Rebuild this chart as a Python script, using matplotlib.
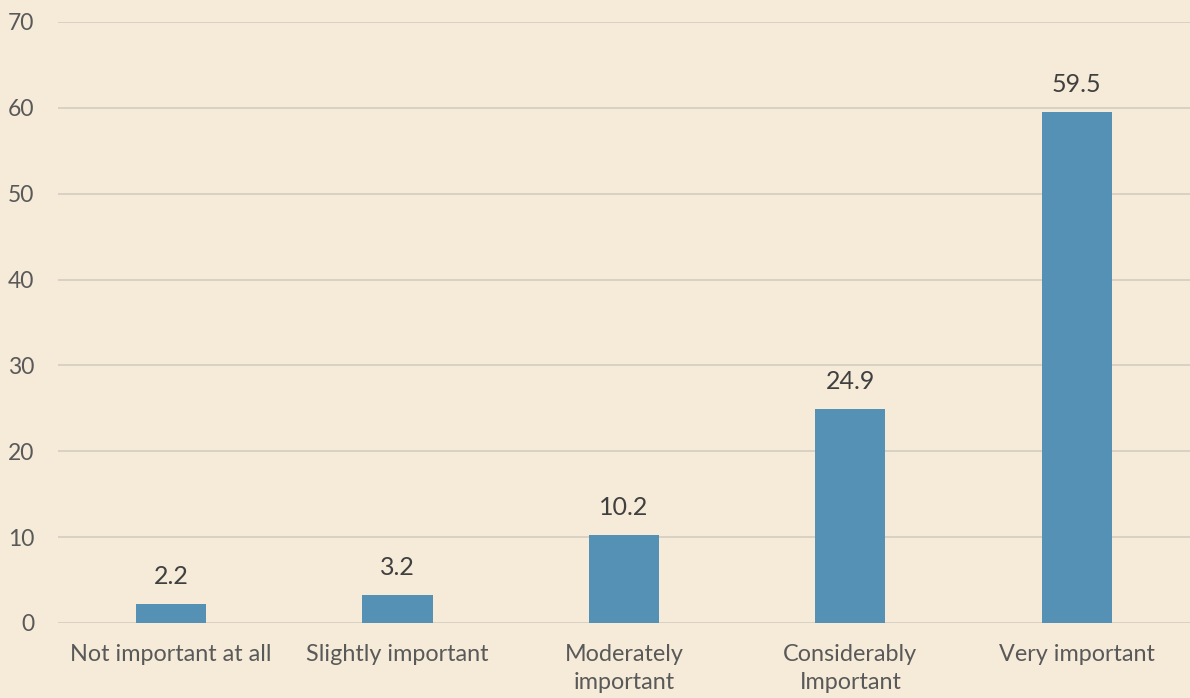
import matplotlib
matplotlib.use("Agg")
import matplotlib.pyplot as plt

categories = ['Not important at all', 'Slightly important', 'Moderately\nimportant',
              'Considerably\nImportant', 'Very important']
values = [2.2, 3.2, 10.2, 24.9, 59.5]
value_labels = ['2.2', '3.2', '10.2', '24.9', '59.5']

BG = '#F5EBD8'
BAR = '#5591B5'
GRID = '#D6CFC2'

plt.rcParams['font.family'] = ['Lato', 'DejaVu Sans']

fig = plt.figure(figsize=(11.9, 6.98), dpi=100, facecolor=BG)
ax = fig.add_axes([0.0487, 0.1075, 0.9513, 0.861])
ax.set_facecolor(BG)

x = list(range(len(categories)))
bars = ax.bar(x, values, width=0.31, color=BAR, zorder=3)
for b, lab in zip(bars, value_labels):
    ax.text(b.get_x() + b.get_width() / 2, b.get_height() + 1.9, lab,
            ha='center', va='bottom', fontsize=18, color='#404040')

ax.set_xlim(-0.5, 4.5)
ax.set_ylim(0, 70)
ax.set_yticks(range(0, 71, 10))
ax.yaxis.grid(True, color=GRID, linewidth=1.3, zorder=0)
ax.set_xticks(x)
ax.set_xticklabels(categories, fontsize=16.8, color='#595959', linespacing=1.4)
ax.tick_params(axis='y', labelsize=16.5, labelcolor='#595959', length=0, pad=17)
ax.tick_params(axis='x', length=0, pad=15)
for s in ax.spines.values():
    s.set_visible(False)

fig.savefig('out.png', dpi=100, facecolor=BG)
